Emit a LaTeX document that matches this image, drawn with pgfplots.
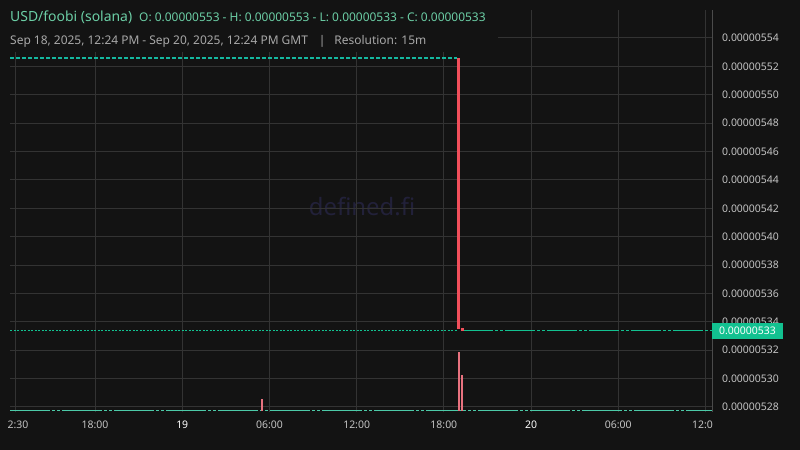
\documentclass[border=0pt]{standalone}
\usepackage{pgfplots}
\pgfplotsset{compat=1.18}
\usepackage{fontspec}
\setmainfont{Noto Sans}

\definecolor{bgc}{HTML}{131313}
\definecolor{gridc}{HTML}{333333}
\definecolor{axisc}{HTML}{4B4B4B}
\definecolor{tickc}{HTML}{C4C4C4}
\definecolor{titlec}{HTML}{6CCFA6}
\definecolor{subc}{HTML}{A8A8A8}
\definecolor{wmc}{HTML}{22213A}
\definecolor{redc}{HTML}{F14F5B}
\definecolor{pinkc}{HTML}{E8727F}
\definecolor{tealc}{HTML}{12C190}
\definecolor{tealtop}{HTML}{14B8A0}
\definecolor{tealbot}{HTML}{4CCAA8}

\begin{document}
\begin{tikzpicture}[x=1bp,y=1bp]
% canvas
\fill[bgc] (0,0) rectangle (800,450);
\path[use as bounding box] (0,0) rectangle (800,450);

% watermark
\node[text=wmc, font=\fontsize{24}{28}\selectfont] at (362,243) {defined.fi};

% x in hours from Sep 19 00:00, y in units of 1e-8
\begin{axis}[
    at={(10bp,38bp)}, anchor=south west,
    scale only axis, width=702bp, height=402bp,
    xmin=-11.85, xmax=36.45,
    ymin=527.648, ymax=555.973,
    axis y line*=right, axis x line*=bottom,
    x axis line style={draw=none},
    y axis line style={draw=axisc, line width=1bp, -},
    major tick length=0,
    grid=major,
    grid style={gridc, line width=1bp},
    tick label style={font=\fontsize{10.5}{12}\selectfont, text=tickc, inner sep=0pt},
    xtick={-11.5,-6,0,6,12,18,24,30,36},
    xticklabels={\phantom{1}2:30,18:00,\textbf{\color{white}19},06:00,12:00,18:00,\textbf{\color{white}20},06:00,12:0\phantom{0}},
    xticklabel style={anchor=north, yshift=-9bp},
    ytick={528,530,...,554},
    yticklabels={0.00000528,0.00000530,0.00000532,0.00000534,0.00000536,0.00000538,0.00000540,0.00000542,0.00000544,0.00000546,0.00000548,0.00000550,0.00000552,0.00000554},
    yticklabel style={anchor=west, xshift=10bp},
    line cap=butt,
]
% flat low price series
\addplot[tealbot, line width=1.4bp, dash pattern=on 40bp off 2bp on 3bp off 2bp on 3bp off 2bp, mark=none]
    coordinates {(-11.85,527.74) (36.45,527.74)};
% top dashed line at the open
\addplot[tealtop, line width=1.3bp, dash pattern=on 4bp off 2bp, mark=none]
    coordinates {(-11.85,552.59) (18.92,552.59)};
% price line before the move
\addplot[tealc, line width=1bp, dash pattern=on 2bp off 1.5bp, mark=none]
    coordinates {(-11.85,533.36) (18.92,533.36)};
% flat price after the move
\addplot[tealc, line width=1bp, dash pattern=on 30bp off 2bp on 3bp off 2bp on 3bp off 2bp, mark=none]
    coordinates {(19.3,533.36) (36.45,533.36)};
% small candle at 05:30
\addplot[pinkc, line width=2bp, mark=none]
    coordinates {(5.48,527.74) (5.48,528.56)};
% big candle at 19:00
\addplot[redc, line width=3bp, mark=none]
    coordinates {(19.00,533.50) (19.00,552.59)};
\addplot[pinkc, line width=2bp, mark=none]
    coordinates {(19.04,527.74) (19.04,531.88)};
\addplot[pinkc, line width=2bp, mark=none]
    coordinates {(19.24,527.74) (19.24,530.25)};
\addplot[redc, line width=3bp, mark=none]
    coordinates {(19.27,533.36) (19.27,533.57)};
\end{axis}

% header box
\fill[bgc] (0,398) rectangle (498,450);
\node[anchor=base west, inner sep=0pt, text=titlec, font=\fontsize{14}{16}\selectfont] (t1) at (10,428) {USD/foobi (solana)};
\node[anchor=base west, inner sep=0pt, text=titlec, font=\fontsize{12}{14}\selectfont] at (139,428) {O: 0.00000553 - H: 0.00000553 - L: 0.00000533 - C: 0.00000533};
\node[anchor=base west, inner sep=0pt, text=subc, font=\fontsize{12}{14}\selectfont] at (10,405) {Sep 18, 2025, 12:24 PM - Sep 20, 2025, 12:24 PM GMT\hspace{11bp}|\hspace{9bp}Resolution: 15m};

% last price tag
\fill[tealc] (712,111) rectangle (783,127);
\node[text=white, inner sep=0pt, font=\fontsize{10.5}{12}\selectfont] at (747.5,119) {0.00000533};
\end{tikzpicture}
\end{document}
